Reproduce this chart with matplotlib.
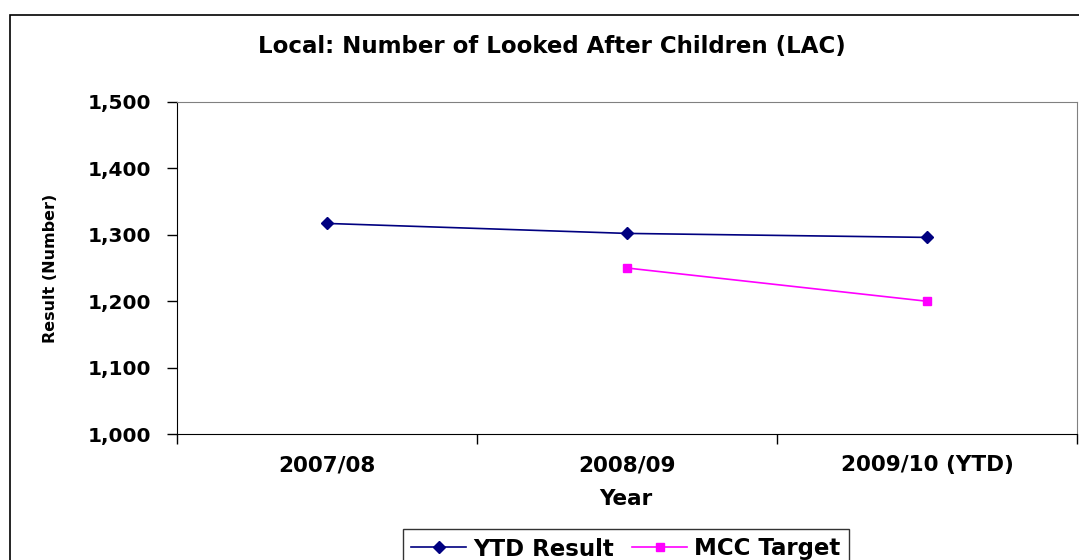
import matplotlib.pyplot as plt
from matplotlib.patches import Rectangle
from matplotlib.ticker import FuncFormatter, FixedLocator

plt.rcParams["font.family"] = ["DejaVu Sans"]
plt.rcParams["font.weight"] = "bold"

# ==== Data ====
years = ["2007/08", "2008/09", "2009/10 (YTD)"]
ytd_result = [1317, 1302, 1296]
mcc_target = [None, 1250, 1200]

fig = plt.figure(figsize=(10.79, 5.6), dpi=100)
ax = fig.add_axes([177 / 1079, 1 - 434.3 / 560, 900 / 1079, 332.6 / 560])

# outer chart frame
fig.patches.append(Rectangle((10 / 1079, -0.2), 1.2, 1 - 15 / 560 + 0.2,
                             transform=fig.transFigure, fill=False,
                             edgecolor="black", linewidth=1.2))

xs = list(range(len(years)))
ax.plot(xs, ytd_result, color="#000080", marker="D", markersize=6,
        linewidth=1.2, label="YTD Result")
tx = [x for x, v in zip(xs, mcc_target) if v is not None]
tv = [v for v in mcc_target if v is not None]
ax.plot(tx, tv, color="#FF00FF", marker="s", markersize=6,
        linewidth=1.2, label="MCC Target")

ax.set_xlim(-0.5, 2.5)
ax.set_ylim(1000, 1500)
ax.set_yticks([1000, 1100, 1200, 1300, 1400, 1500])
ax.yaxis.set_major_formatter(FuncFormatter(lambda v, p: f"{int(v):,}"))
ax.tick_params(axis="y", labelsize=14.5, length=7, width=1, pad=11.5)

# category labels between boundary ticks
ax.xaxis.set_major_locator(FixedLocator([-0.5, 0.5, 1.5, 2.5]))
ax.xaxis.set_minor_locator(FixedLocator(xs))
ax.set_xticklabels([], minor=False)
ax.set_xticklabels(years, minor=True)
ax.tick_params(axis="x", which="major", length=7, width=1)
ax.tick_params(axis="x", which="minor", length=0, labelsize=15.5, pad=15)

for s in ["top", "right"]:
    ax.spines[s].set_color("#808080")
for s in ["left", "bottom"]:
    ax.spines[s].set_color("black")

fig.text(552 / 1079, 1 - 46 / 560, "Local: Number of Looked After Children (LAC)",
         fontsize=16.5, fontweight="bold", ha="center", va="center")
ax.set_xlabel("Year", fontsize=15.5, fontweight="bold")
ax.xaxis.set_label_coords(0.499, -0.165)
ax.set_ylabel("Result (Number)", fontsize=11.5, fontweight="bold")
ax.yaxis.set_label_coords(-0.132, 0.5)

leg = fig.legend(loc="center", bbox_to_anchor=(626 / 1079, 1 - 549 / 560),
                 ncol=2, fontsize=16.5, frameon=True, fancybox=False,
                 edgecolor="black", handlelength=2.4, columnspacing=0.8,
                 handletextpad=0.3, borderpad=0.35)
leg.get_frame().set_linewidth(1)

fig.savefig("out.png", dpi=100)
